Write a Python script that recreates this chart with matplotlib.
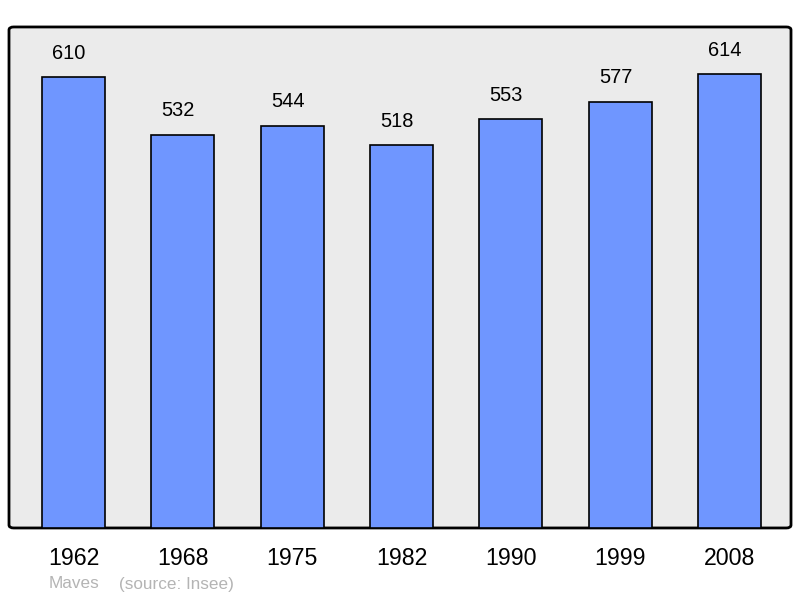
import matplotlib
matplotlib.use('Agg')
import matplotlib.pyplot as plt
from matplotlib.patches import FancyBboxPatch

plt.rcParams['font.family'] = ['Liberation Sans', 'DejaVu Sans']

years = ['1962', '1968', '1975', '1982', '1990', '1999', '2008']
population = [610, 532, 544, 518, 553, 577, 614]

fig = plt.figure(figsize=(8, 5.98), dpi=100)
ax = fig.add_axes([0.01125, 0.1171, 0.9775, 0.8378])
ax.set_facecolor('none')
for s in ax.spines.values():
    s.set_visible(False)

# fond arrondi
bg = FancyBboxPatch((0, 0), 1, 1, boxstyle='round,pad=0,rounding_size=0.006',
                    transform=ax.transAxes, facecolor='#ebebeb', edgecolor='black',
                    linewidth=2, zorder=0, clip_on=False)
ax.add_patch(bg)

xpos = list(range(len(years)))
bars = ax.bar(xpos, population, width=0.576, color='#6f96ff',
              edgecolor='black', linewidth=1.2, zorder=2)

for x, v in zip(xpos, population):
    ax.annotate(str(v), (x, v), xytext=(-3.3, 10.5), textcoords='offset points',
                ha='center', va='bottom', fontsize=14.4)

ax.set_xlim(-0.59, 6.563)
ax.set_ylim(0, 678)
ax.set_yticks([])
ax.set_xticks(xpos)
ax.set_xticklabels(years, fontsize=16.7)
ax.tick_params(axis='x', length=0, pad=14)

fig.text(49 / 800, 1 - 584 / 598, 'Maves', color='#b4b4b4', fontsize=12.3,
         ha='left', va='center')
fig.text(119 / 800, 1 - 584 / 598, '(source: Insee)', color='#b4b4b4',
         fontsize=12.3, ha='left', va='center')

fig.savefig('out.png', dpi=100)
